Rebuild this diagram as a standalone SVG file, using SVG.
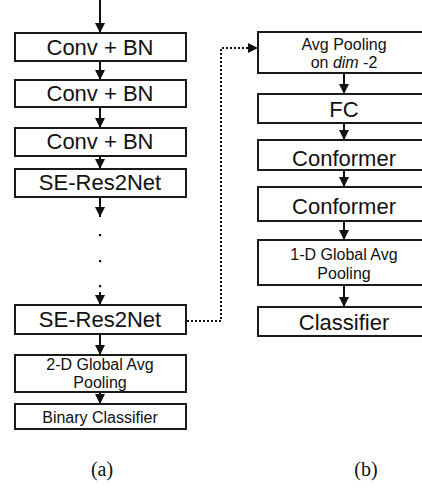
<svg xmlns="http://www.w3.org/2000/svg" width="422" height="491" viewBox="0 0 422 491">
<style>
.box{fill:#fff;stroke:#1a1a1a;stroke-width:2}
.t{font-family:"Liberation Sans",Arial,sans-serif;fill:#111;text-anchor:middle}
.big{font-size:22px}
.sm{font-size:16px}
.cap{font-family:"Liberation Serif","Times New Roman",serif;font-size:20px;fill:#111;text-anchor:middle}
.ar{fill:none;stroke:#111;stroke-width:2}
.dot{fill:none;stroke:#111;stroke-width:2;stroke-dasharray:2 2}
</style>
<defs>
<marker id="ah" viewBox="0 0 10 10" refX="10" refY="5" markerWidth="5" markerHeight="5" markerUnits="strokeWidth" orient="auto">
<path d="M0,0 L10,5 L0,10 Z" fill="#111"/>
</marker>
</defs>
<rect width="422" height="491" fill="#fff"/>
<g id="connectors">
<line class="ar" x1="100" y1="0" x2="100" y2="33" marker-end="url(#ah)"/>
<line class="ar" x1="100" y1="61" x2="100" y2="80" marker-end="url(#ah)"/>
<line class="ar" x1="100" y1="107" x2="100" y2="128" marker-end="url(#ah)"/>
<line class="ar" x1="100" y1="156" x2="100" y2="169" marker-end="url(#ah)"/>
<line class="ar" x1="100" y1="197" x2="100" y2="217" marker-end="url(#ah)"/>
<rect x="99" y="234" width="2.2" height="2.2" fill="#111"/>
<rect x="99" y="260" width="2.2" height="2.2" fill="#111"/>
<rect x="99" y="285" width="2.2" height="2.2" fill="#111"/>
<line class="ar" x1="100" y1="292" x2="100" y2="305" marker-end="url(#ah)"/>
<line class="ar" x1="100" y1="334" x2="100" y2="355" marker-end="url(#ah)"/>
<line class="ar" x1="100" y1="392" x2="100" y2="404" marker-end="url(#ah)"/>
<polyline class="dot" points="187,321 221,321 221,48 248,48"/>
<path d="M248,43 L258,48 L248,53 Z" fill="#111"/>
<line class="ar" x1="344" y1="73" x2="344" y2="94" marker-end="url(#ah)"/>
<line class="ar" x1="344" y1="123" x2="344" y2="140" marker-end="url(#ah)"/>
<line class="ar" x1="344" y1="170" x2="344" y2="187" marker-end="url(#ah)"/>
<line class="ar" x1="344" y1="221" x2="344" y2="240" marker-end="url(#ah)"/>
<line class="ar" x1="344" y1="285" x2="344" y2="307" marker-end="url(#ah)"/>
</g>
<g id="conv1"><rect class="box" x="15" y="33" width="171" height="28"/><text class="t big" x="100" y="55">Conv + BN</text></g>
<g id="conv2"><rect class="box" x="15" y="80" width="171" height="27"/><text class="t big" x="100" y="101">Conv + BN</text></g>
<g id="conv3"><rect class="box" x="15" y="128" width="171" height="28"/><text class="t big" x="100" y="149">Conv + BN</text></g>
<g id="seres1"><rect class="box" x="15" y="169" width="171" height="28"/><text class="t big" x="100" y="190">SE-Res2Net</text></g>
<g id="seres2"><rect class="box" x="15" y="305" width="171" height="29"/><text class="t big" x="100" y="327">SE-Res2Net</text></g>
<g id="gap2d"><rect class="box" x="15" y="355" width="171" height="37"/><text class="t sm" x="100" y="370">2-D Global Avg</text><text class="t sm" x="100" y="388">Pooling</text></g>
<g id="binary"><rect class="box" x="15" y="404" width="171" height="25"/><text class="t sm" x="100" y="423">Binary Classifier</text></g>
<g id="avgpool"><rect class="box" x="258" y="32" width="172" height="41"/><text class="t sm" x="344" y="50">Avg Pooling</text><text class="t sm" x="344" y="68">on <tspan font-style="italic">dim</tspan> -2</text></g>
<g id="fc"><rect class="box" x="258" y="94" width="172" height="29"/><text class="t big" x="344" y="117">FC</text></g>
<g id="conf1"><rect class="box" x="258" y="140" width="172" height="30"/><text class="t big" x="344" y="166">Conformer</text></g>
<g id="conf2"><rect class="box" x="258" y="187" width="172" height="34"/><text class="t big" x="344" y="214">Conformer</text></g>
<g id="gap1d"><rect class="box" x="258" y="240" width="172" height="45"/><text class="t sm" x="344" y="260">1-D Global Avg</text><text class="t sm" x="344" y="279">Pooling</text></g>
<g id="classifier"><rect class="box" x="258" y="307" width="172" height="29"/><text class="t big" x="344" y="330">Classifier</text></g>
<text class="cap" x="102" y="476">(a)</text>
<text class="cap" x="366" y="476">(b)</text>
</svg>
